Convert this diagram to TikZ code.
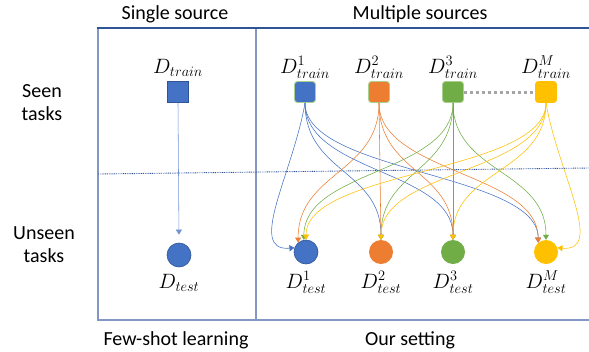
\documentclass[tikz,border=0pt]{standalone}
\usepackage{fontspec}
\setmainfont{Carlito}
\usetikzlibrary{arrows.meta}
\definecolor{cblue}{HTML}{4472C4}
\definecolor{corange}{HTML}{ED7D31}
\definecolor{cgreen}{HTML}{70AD47}
\definecolor{cyellow}{HTML}{FFC000}
\definecolor{dblue}{HTML}{2F5597}
\definecolor{framec}{HTML}{8497C4}
\definecolor{lgreen}{HTML}{A9D18E}
\definecolor{cgray}{HTML}{A5A5A5}
\begin{document}
\begin{tikzpicture}[x=1pt,y=-1pt,
  txt/.style={font=\fontsize{20}{23}\selectfont, anchor=base, inner sep=0pt},
  mlbl/.style={font=\fontsize{20}{24}\selectfont, anchor=base, inner sep=0pt},
  srcbox/.style={rectangle, rounded corners=3pt, minimum size=21pt, inner sep=0pt, line width=0.9pt},
  tgt/.style={circle, minimum size=24pt, inner sep=0pt},
  link/.style={line width=0.55pt, -{Triangle[length=5pt,width=6pt]}},
  framel/.style={draw=framec, line width=1.6pt}]
\useasboundingbox (0,0) rectangle (589,351);

% frame
\draw[framel] (98,28) -- (98,320) -- (589,320);
\draw[framel] (256,28) -- (256,320);
\draw[dblue, line width=1.4pt] (97.2,28) -- (589,28);
\draw[dblue, line width=0.9pt, dash pattern=on 0.9pt off 0.9pt] (98,174) -- (589,168);

% texts
\node[txt] (hs) at (175,19) {Single source};
\node[txt] (hm) at (420,19) {Multiple sources};
\node[txt] (fs) at (176,345) {Few-shot learning};
\node[txt] (os) at (410,345) {Our setting};
\node[txt, align=center, anchor=center] (seen) at (42,103) {Seen\\tasks};
\node[txt, align=center, anchor=center] (unseen) at (44,245) {Unseen\\tasks};

% single source
\node[srcbox, rounded corners=0pt, fill=cblue, draw=dblue] (st) at (178,92) {};
\node[tgt, fill=cblue, draw=dblue, line width=0.6pt] (se) at (179,255) {};
\node[mlbl] (stl) at (178,73) {$D_{train}$};
\node[mlbl] (sel) at (179,288) {$D_{test}$};
\draw[link, cblue!75, shorten >=8pt] (st.south) -- (se.north);

% multiple sources
\node[srcbox, fill=cblue, draw=lgreen] (t1) at (305,92) {};
\node[srcbox, fill=corange, draw=lgreen] (t2) at (379,92) {};
\node[srcbox, fill=cgreen, draw=lgreen] (t3) at (453,92) {};
\node[srcbox, fill=cyellow, draw=cyellow] (t4) at (546,92) {};
\node[tgt, fill=cblue, draw=dblue, line width=0.6pt] (e1) at (306,252) {};
\node[tgt, fill=corange] (e2) at (381,252) {};
\node[tgt, fill=cgreen] (e3) at (453,252) {};
\node[tgt, fill=cyellow] (e4) at (546,252) {};
\draw[cgray, line width=3pt, dash pattern=on 3.5pt off 2.5pt] (t3.east) -- (t4.west);

\node[mlbl] (l1) at (305,73) {$D^{1}_{train}$};
\node[mlbl] (l2) at (379,73) {$D^{2}_{train}$};
\node[mlbl] (l3) at (453,73) {$D^{3}_{train}$};
\node[mlbl] (l4) at (546,73) {$D^{M}_{train}$};
\node[mlbl] (m1) at (306,288) {$D^{1}_{test}$};
\node[mlbl] (m2) at (381,288) {$D^{2}_{test}$};
\node[mlbl] (m3) at (453,288) {$D^{3}_{test}$};
\node[mlbl] (m4) at (546,288) {$D^{M}_{test}$};

% blue links
\draw[link, cblue] (t1.south) .. controls +(-12,70) and +(-48,4) .. (e1.160);
\draw[link, cblue] (t1.south) .. controls +(0,70) and +(0,-70) .. (e2.north);
\draw[link, cblue] (t1.south) .. controls +(0,70) and +(0,-70) .. (e3.north);
\draw[link, cblue] (t1.south) .. controls +(0,70) and +(0,-70) .. (e4.130);
% orange links
\draw[link, corange] (t2.south) .. controls +(0,70) and +(0,-70) .. (e1.130);
\draw[link, corange] (t2.south) -- (e2.north);
\draw[link, corange] (t2.south) .. controls +(0,70) and +(0,-70) .. (e3.north);
\draw[link, corange] (t2.south) .. controls +(0,70) and +(0,-70) .. (e4.130);
% green links
\draw[link, cgreen] (t3.south) .. controls +(0,70) and +(0,-70) .. (e1.100);
\draw[link, cgreen] (t3.south) .. controls +(0,70) and +(0,-70) .. (e2.north);
\draw[link, cgreen] (t3.south) -- (e3.north);
\draw[link, cgreen] (t3.south) .. controls +(0,70) and +(0,-70) .. (e4.north);
% yellow links
\draw[link, cyellow] (t4.south) .. controls +(0,70) and +(0,-70) .. (e1.north);
\draw[link, cyellow] (t4.south) .. controls +(0,70) and +(0,-70) .. (e2.north);
\draw[link, cyellow] (t4.south) .. controls +(0,70) and +(0,-70) .. (e3.north);
\draw[link, cyellow] (t4.south) .. controls +(12,70) and +(48,4) .. (e4.20);
\end{tikzpicture}
\end{document}
